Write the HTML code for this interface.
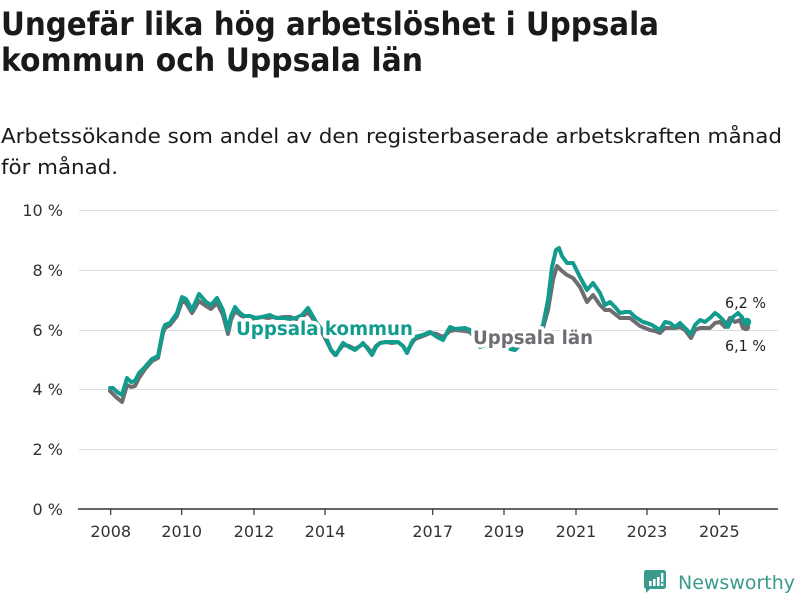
<!DOCTYPE html>
<html>
<head>
<meta charset="utf-8">
<style>
  html, body { margin:0; padding:0; background:#ffffff; }
  body { width:800px; height:600px; overflow:hidden; }
  svg { display:block; }
  .t { font-family: "DejaVu Sans", "Liberation Sans", sans-serif; }
</style>
</head>
<body>
<svg width="800" height="600" viewBox="0 0 800 600" xmlns="http://www.w3.org/2000/svg">
  <rect x="0" y="0" width="800" height="600" fill="#ffffff"/>

  <!-- Title -->
  <text class="t" x="1" y="35" font-size="32" font-weight="bold" fill="#1a1a1a" textLength="658" lengthAdjust="spacingAndGlyphs">Ungefär lika hög arbetslöshet i Uppsala</text>
  <text class="t" x="1" y="71" font-size="32" font-weight="bold" fill="#1a1a1a" textLength="422" lengthAdjust="spacingAndGlyphs">kommun och Uppsala län</text>

  <!-- Subtitle -->
  <text class="t" x="1" y="143" font-size="20.5" fill="#1a1a1a" textLength="781" lengthAdjust="spacingAndGlyphs">Arbetssökande som andel av den registerbaserade arbetskraften månad</text>
  <text class="t" x="1" y="174" font-size="20.5" fill="#1a1a1a" textLength="117" lengthAdjust="spacingAndGlyphs">för månad.</text>

  <!-- Gridlines -->
  <g stroke="#dddddd" stroke-width="1">
    <line x1="79" y1="210.5" x2="778" y2="210.5"/>
    <line x1="79" y1="270.5" x2="778" y2="270.5"/>
    <line x1="79" y1="330.5" x2="778" y2="330.5"/>
    <line x1="79" y1="389.5" x2="778" y2="389.5"/>
    <line x1="79" y1="449.5" x2="778" y2="449.5"/>
  </g>
  <!-- X axis -->
  <line x1="78" y1="509" x2="778" y2="509" stroke="#333333" stroke-width="1.5"/>
  <g stroke="#333333" stroke-width="1.2">
    <line x1="110.7" y1="509" x2="110.7" y2="515"/>
    <line x1="181.7" y1="509" x2="181.7" y2="515"/>
    <line x1="254" y1="509" x2="254" y2="515"/>
    <line x1="325" y1="509" x2="325" y2="515"/>
    <line x1="432.7" y1="509" x2="432.7" y2="515"/>
    <line x1="504" y1="509" x2="504" y2="515"/>
    <line x1="576" y1="509" x2="576" y2="515"/>
    <line x1="647" y1="509" x2="647" y2="515"/>
    <line x1="719.3" y1="509" x2="719.3" y2="515"/>
  </g>

  <!-- Y labels -->
  <g class="t" font-size="16" fill="#333333" text-anchor="end">
    <text x="63" y="216">10 %</text>
    <text x="63" y="276">8 %</text>
    <text x="63" y="336">6 %</text>
    <text x="63" y="395">4 %</text>
    <text x="63" y="455">2 %</text>
    <text x="63" y="515">0 %</text>
  </g>
  <!-- X labels -->
  <g class="t" font-size="16" fill="#333333" text-anchor="middle">
    <text x="110.7" y="537">2008</text>
    <text x="181.7" y="537">2010</text>
    <text x="254" y="537">2012</text>
    <text x="325" y="537">2014</text>
    <text x="432.7" y="537">2017</text>
    <text x="504" y="537">2019</text>
    <text x="576" y="537">2021</text>
    <text x="647" y="537">2023</text>
    <text x="719.3" y="537">2025</text>
  </g>

  <!-- Grey series: Uppsala län -->
  <polyline fill="none" stroke="#6d6d72" stroke-width="4" stroke-linejoin="round" stroke-linecap="round"
    points="110,391 116,397 122,402 127,385 131,387 135,386 139,378 145,369 152,361 158,358 163,333 165,328 170,325 177,316 182,301 186,303 192,313 199,301 206,306 211,309 217,303 223,315 228,334 231,320 235,311 239,314 244,318 250,319 256,318 262,317 268,318 273,317 278,318 284,317 290,317 296,319 302,318 307,312 311,316 316,324 322,332 327,342 331,350 335,355 340,349 343,345 349,346 355,349 360,346 363,344 367,347 372,353 376,346 380,343 386,342 392,343 398,342 403,346 407,352 412,343 415,339 423,336 430,333 437,334 443,337 450,331 455,330 465,331 470,332 475,338 480,345 485,344 490,343 495,343 500,344 505,345 510,347 515,348 520,344 525,340 530,337 535,335 540,332 543,328 548,310 553,280 557,266 562,271 567,275 573,278 580,287 587,302 593,295 600,305 605,310 610,310 615,314 620,318 625,318 630,318 635,322 640,326 645,328 650,330 655,331 660,333 665,328 670,328 675,328 680,327 685,330 691,338 695,330 700,328 705,328 710,328 715,323 720,322 725,327 730,318 735,322 740,320 743,328 746,327"/>
  <circle cx="746" cy="327" r="4.2" fill="#6d6d72"/>

  <!-- Teal series: Uppsala kommun -->
  <polyline fill="none" stroke="#119c8d" stroke-width="4" stroke-linejoin="round" stroke-linecap="round"
    points="110,388 113,388 117,392 122,395 127,378 131,382 135,381 139,373 145,367 152,359 158,356 163,330 165,325 170,323 177,313 182,297 186,299 192,310 199,294 206,302 211,305 217,298 223,310 228,330 231,316 235,307 239,312 244,316 250,316 256,318 262,317 270,315 276,318 284,318 290,319 296,318 302,315 308,308 311,313 316,322 322,330 327,340 331,350 336,355 340,348 343,343 349,347 355,350 360,346 363,343 367,348 372,355 376,347 380,343 386,342 392,342 398,342 403,346 407,353 412,342 415,337 423,335 430,332 437,337 443,340 450,327 455,329 465,328 470,330 475,338 480,347 485,345 490,343 495,342 500,343 505,345 510,349 515,350 520,345 525,340 530,336 535,334 540,330 543,325 548,300 552,267 556,250 559,248 562,256 567,263 573,263 580,277 587,290 593,283 600,293 605,305 610,302 615,307 620,313 625,312 630,312 635,317 640,320 643,322 647,323 652,325 655,327 660,330 665,322 670,323 675,327 680,323 685,328 691,334 695,325 700,320 705,322 710,318 715,313 718,315 723,320 728,327 733,317 738,313 742,317 744,323 747,322"/>
  <circle cx="747" cy="322" r="4.2" fill="#119c8d"/>

  <!-- Series labels with white halo -->
  <text class="t" x="236" y="335" font-size="18.5" font-weight="bold" fill="#119c8d" stroke="#ffffff" stroke-width="7" stroke-linejoin="round" paint-order="stroke" textLength="177" lengthAdjust="spacingAndGlyphs">Uppsala kommun</text>
  <text class="t" x="473" y="344" font-size="18.5" font-weight="bold" fill="#6d6d72" stroke="#ffffff" stroke-width="7" stroke-linejoin="round" paint-order="stroke" textLength="120" lengthAdjust="spacingAndGlyphs">Uppsala län</text>

  <!-- End value labels -->
  <text class="t" x="725" y="308" font-size="15" fill="#222222" textLength="41" lengthAdjust="spacingAndGlyphs">6,2 %</text>
  <text class="t" x="725" y="351" font-size="15" fill="#222222" textLength="41" lengthAdjust="spacingAndGlyphs">6,1 %</text>

  <!-- Newsworthy logo -->
  <g>
    <rect x="644" y="570" width="22" height="19" rx="2.5" fill="#3a9a8b"/>
    <polygon points="646,587 652,587 646,593" fill="#3a9a8b"/>
    <rect x="649" y="581" width="2.6" height="5" fill="#ffffff"/>
    <rect x="653" y="579" width="2.6" height="7" fill="#ffffff"/>
    <rect x="657" y="577" width="2.6" height="9" fill="#ffffff"/>
    <rect x="661" y="573" width="2.4" height="9" fill="#ffffff"/>
    <rect x="661" y="583.5" width="2.4" height="2.5" fill="#ffffff"/>
  </g>
  <text class="t" x="678" y="589" font-size="19" fill="#3a9a8b" textLength="117" lengthAdjust="spacingAndGlyphs">Newsworthy</text>
</svg>
</body>
</html>
